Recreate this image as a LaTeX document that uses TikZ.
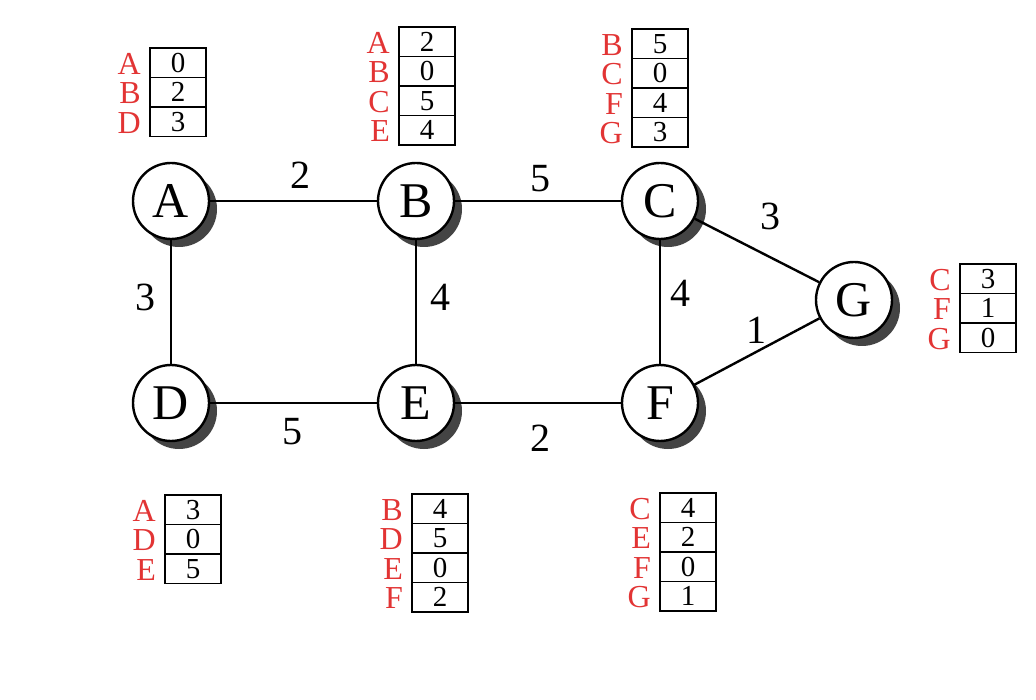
\documentclass[tikz,border=0pt]{standalone}
\usepackage{fontspec}
\setmainfont{Liberation Serif}
\usetikzlibrary{shadows,positioning}
\definecolor{labred}{RGB}{226,52,52}
\definecolor{shadowgray}{RGB}{68,68,68}
\tikzset{
  vertex/.style={circle, draw, line width=2.4pt, fill=white, minimum size=76pt, inner sep=0pt,
    font=\fontsize{50}{50}\selectfont,
    drop shadow={shadow xshift=8pt, shadow yshift=-8pt, fill=shadowgray, opacity=1}},
  link/.style={line width=2.4pt, black},
  weight/.style={font=\fontsize{40}{40}\selectfont, inner sep=0pt},
  cell/.style={draw, line width=1.5pt, minimum width=56pt, minimum height=29.5pt, inner sep=0pt,
    font=\fontsize{29}{29}\selectfont},
  lab/.style={text=labred, font=\fontsize{32}{32}\selectfont, inner sep=0pt, anchor=east},
}
\newcommand\rtab[4]{%
  \foreach \l/\v [count=\i] in {#4} {
    \node[cell] (#1\i) at ({#2+28},{#3+(\i-0.5)*29.5}) {\v};
    \node[lab] (#1l\i) at ({#2-9},{#3+(\i-0.5)*29.5+1}) {\l};
  }}
\begin{document}
\begin{tikzpicture}[x=1pt,y=-1pt]
\useasboundingbox (0,0) rectangle (1036,700);
\node[vertex] (A) at (171,201) {A};
\node[vertex] (B) at (416,201) {B};
\node[vertex] (C) at (660,201) {C};
\node[vertex] (G) at (854,300) {G};
\node[vertex] (D) at (171,403) {D};
\node[vertex] (E) at (416,403) {E};
\node[vertex] (F) at (660,403) {F};
\draw[link] (A) -- (B);
\draw[link] (B) -- (C);
\draw[link] (C) -- (G);
\draw[link] (A) -- (D);
\draw[link] (B) -- (E);
\draw[link] (C) -- (F);
\draw[link] (F) -- (G);
\draw[link] (D) -- (E);
\draw[link] (E) -- (F);
\node[weight] (wab) at (300,175) {2};
\node[weight] (wbc) at (540,179) {5};
\node[weight] (wcg) at (770,216) {3};
\node[weight] (wad) at (145,297) {3};
\node[weight] (wbe) at (440,297) {4};
\node[weight] (wcf) at (680,293) {4};
\node[weight] (wfg) at (756,330) {1};
\node[weight] (wde) at (292,432) {5};
\node[weight] (wef) at (540,438) {2};
\rtab{ta}{150}{48}{A/0,B/2,D/3}
\rtab{tb}{399}{27}{A/2,B/0,C/5,E/4}
\rtab{tc}{632}{29}{B/5,C/0,F/4,G/3}
\rtab{tg}{960}{264}{C/3,F/1,G/0}
\rtab{td}{165}{495}{A/3,D/0,E/5}
\rtab{te}{412}{494}{B/4,D/5,E/0,F/2}
\rtab{tf}{660}{493}{C/4,E/2,F/0,G/1}
\end{tikzpicture}
\end{document}
